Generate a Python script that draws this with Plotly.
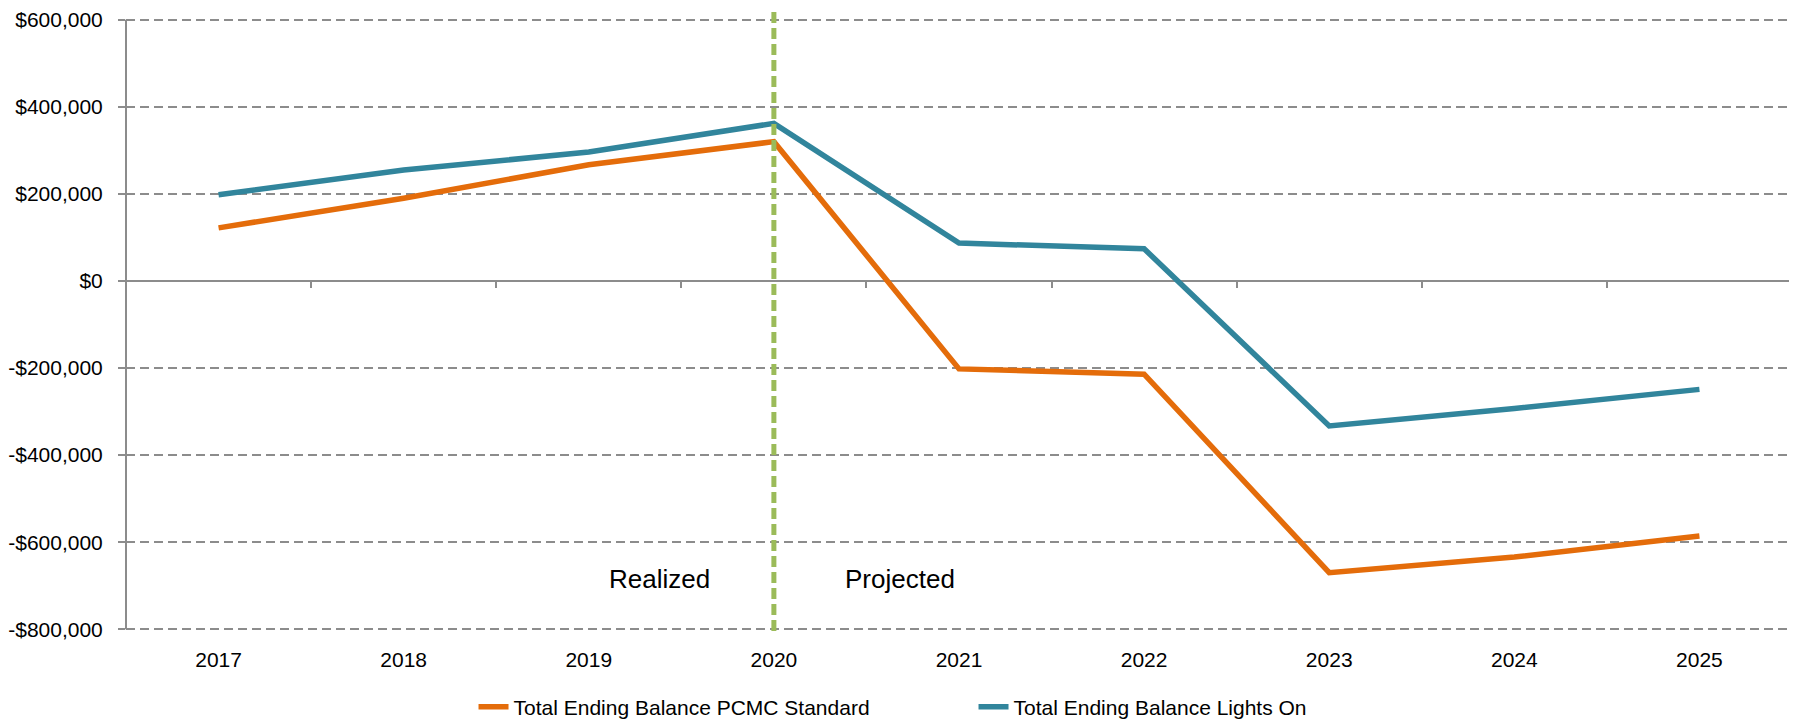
import plotly.graph_objects as go

years = ["2017", "2018", "2019", "2020", "2021", "2022", "2023", "2024", "2025"]
pcmc_standard = [122000, 190000, 267000, 320000, -202000, -214000, -670000, -634000, -586000]
lights_on = [198000, 255000, 296000, 362000, 87000, 74000, -333000, -293000, -249000]

y_tickvals = [600000, 400000, 200000, 0, -200000, -400000, -600000, -800000]
y_ticktext = ["$600,000", "$400,000", "$200,000", "$0", "-$200,000", "-$400,000", "-$600,000", "-$800,000"]

divider_year = "2020"
series_names = ["Total Ending Balance PCMC Standard", "Total Ending Balance Lights On"]

ORANGE = "#E46C0A"
TEAL = "#31859C"
GREEN = "#9BBB59"
GRAY = "#8C8C8C"
FONT = "Liberation Sans, Arial, sans-serif"

y_min, y_max = -800000, 600000
pad = 4000  # small padding so the edge gridlines are drawn
r_lo, r_hi = y_min - pad, y_max + pad

fig = go.Figure()
fig.add_trace(go.Scatter(x=years, y=pcmc_standard, mode="lines", name=series_names[0],
                         line=dict(color=ORANGE, width=5.5)))
fig.add_trace(go.Scatter(x=years, y=lights_on, mode="lines", name=series_names[1],
                         line=dict(color=TEAL, width=5.5)))
# invisible helper trace for the zero-line tick axis
fig.add_trace(go.Scatter(x=years, y=pcmc_standard, xaxis="x2", mode="lines",
                         line=dict(width=0, color="rgba(0,0,0,0)"), showlegend=False,
                         hoverinfo="skip"))

div_idx = years.index(divider_year)
fig.add_shape(type="line", xref="x", yref="paper", x0=div_idx, x1=div_idx,
              y0=0.0, y1=1.018, layer="above",
              line=dict(color=GREEN, width=5, dash="11px,5px"))

fig.add_annotation(x=div_idx - 0.62, y=-685000, xref="x", yref="y", text="Realized", showarrow=False,
                   font=dict(size=26, color="#000000", family=FONT))
fig.add_annotation(x=div_idx + 0.68, y=-685000, xref="x", yref="y", text="Projected", showarrow=False,
                   font=dict(size=26, color="#000000", family=FONT))

fig.update_layout(
    width=1789, height=715,
    margin=dict(l=118, r=5, t=10, b=92),
    plot_bgcolor="white", paper_bgcolor="white",
    font=dict(family=FONT, size=21, color="#000000"),
    xaxis=dict(type="category", range=[-0.5, 8.5], showgrid=False, showline=False,
               zeroline=False, ticks="", ticklabelstandoff=14, automargin=False,
               tickfont=dict(size=21, color="#000000")),
    xaxis2=dict(type="category", range=[-0.5, 8.5], overlaying="x", anchor="free",
                position=(0 - r_lo) / (r_hi - r_lo), side="bottom", showgrid=False,
                showline=False, zeroline=False, ticks="outside", tickson="boundaries",
                ticklen=6, tickwidth=2, tickcolor=GRAY, showticklabels=False,
                automargin=False),
    yaxis=dict(range=[r_lo, r_hi], tickvals=y_tickvals, ticktext=y_ticktext,
               showgrid=True, gridcolor=GRAY, gridwidth=2, griddash="9px,5px",
               zeroline=True, zerolinecolor=GRAY, zerolinewidth=2,
               showline=False,
               ticks="outside", ticklen=7, tickwidth=2, tickcolor=GRAY,
               ticklabelstandoff=11, automargin=False,
               tickfont=dict(size=21, color="#000000")),
    legend=dict(orientation="h", xref="container", yref="container",
                x=0.5397, xanchor="center", y=0.0224, yanchor="middle",
                entrywidth=455, entrywidthmode="pixels",
                font=dict(size=21, color="#000000"), bgcolor="rgba(0,0,0,0)"),
    showlegend=True,
)

# left axis line spanning exactly the labelled value range
fig.add_shape(type="line", xref="paper", yref="y", x0=0, x1=0, y0=y_min, y1=y_max,
              layer="above", line=dict(color=GRAY, width=2))

fig.write_html("out.html")
